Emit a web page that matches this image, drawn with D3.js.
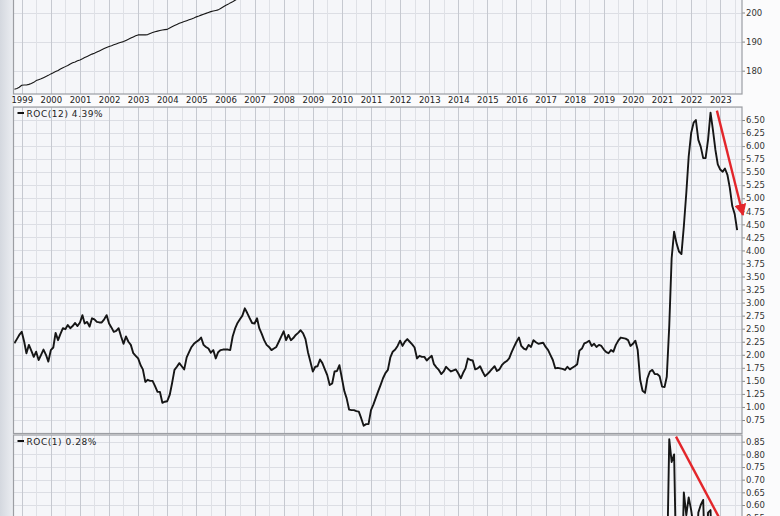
<!DOCTYPE html>
<html><head><meta charset="utf-8">
<script src="https://cdn.jsdelivr.net/npm/d3@7"></script>
<style>
html,body{margin:0;padding:0;background:#fff;}
svg text{font-family:"DejaVu Sans",Verdana,sans-serif;}
</style></head>
<body><svg id="c" width="780" height="516"></svg>
<script>
// ---------- DATA (monthly, first month = Oct 1998) ----------
const startYear = 1998, startMonth = 9; // Oct 1998 (0-based month)
// Core CPI index (top panel), Oct 1998 .. Jul 2006 (rest is above the visible area)
const cpiValues = [173.6,173.9,174.3,175.0,175.1,175.1,175.3,175.6,176.0,176.6,176.9,177.2,177.6,178.0,178.4,
178.9,179.3,179.7,180.1,180.6,181.0,181.4,181.8,182.3,182.7,183.0,183.4,183.7,184.1,184.5,184.9,185.3,185.7,
186.0,186.4,186.8,187.2,187.6,188.0,188.3,188.6,188.9,189.2,189.5,189.8,190.0,190.4,190.8,191.2,191.6,192.0,
192.3,192.3,192.3,192.3,192.4,192.8,193.1,193.4,193.6,193.8,194.0,194.1,194.2,194.7,195.1,195.5,195.9,196.3,
196.6,196.9,197.2,197.5,197.8,198.1,198.5,198.8,199.1,199.4,199.7,200.0,200.3,200.5,200.7,200.9,201.4,201.9,
202.4,202.8,203.3,203.7,204.2,204.7,205.2];
// ROC(12) in %, Oct 1998 .. Aug 2023
const roc12Values = [2.22,2.30,2.38,
2.44,2.25,2.03,2.19,2.08,1.96,2.06,1.90,2.00,2.10,2.00,1.87,
2.09,2.14,2.42,2.28,2.40,2.51,2.49,2.57,2.51,2.55,2.61,2.55,
2.62,2.76,2.60,2.63,2.54,2.70,2.68,2.63,2.62,2.62,2.68,2.76,
2.60,2.52,2.44,2.46,2.51,2.35,2.21,2.35,2.25,2.19,2.03,1.98,
1.93,1.80,1.72,1.48,1.52,1.50,1.50,1.40,1.29,1.29,1.08,1.10,
1.11,1.23,1.45,1.71,1.77,1.84,1.78,1.72,1.95,2.05,2.15,2.21,
2.25,2.28,2.33,2.19,2.15,2.12,2.04,2.09,1.93,2.05,2.09,2.10,
2.10,2.10,2.09,2.35,2.50,2.61,2.68,2.75,2.89,2.80,2.70,2.61,
2.60,2.70,2.51,2.40,2.28,2.19,2.15,2.09,2.12,2.15,2.25,2.35,
2.45,2.28,2.38,2.28,2.32,2.38,2.42,2.47,2.41,2.30,2.05,1.87,
1.68,1.77,1.78,1.91,1.84,1.72,1.61,1.42,1.45,1.68,1.69,1.80,
1.55,1.30,1.17,0.95,0.94,0.94,0.92,0.91,0.78,0.64,0.67,0.67,
0.94,1.05,1.17,1.30,1.42,1.55,1.65,1.71,1.95,2.06,2.10,2.17,
2.27,2.17,2.25,2.30,2.25,2.20,2.14,1.93,1.98,1.96,1.96,1.89,
1.94,1.98,1.82,1.76,1.71,1.63,1.68,1.77,1.72,1.68,1.70,1.72,
1.64,1.55,1.65,1.74,1.93,1.90,1.89,1.72,1.74,1.78,1.68,1.59,
1.63,1.68,1.73,1.78,1.69,1.72,1.80,1.85,1.88,1.93,2.05,2.15,
2.25,2.33,2.17,2.12,2.10,2.19,2.15,2.28,2.24,2.21,2.22,2.23,
2.15,2.09,2.00,1.90,1.74,1.75,1.74,1.73,1.71,1.77,1.72,1.75,
1.78,1.82,2.08,2.12,2.22,2.24,2.27,2.17,2.21,2.15,2.19,2.17,
2.10,2.05,2.03,2.09,2.06,2.19,2.27,2.33,2.32,2.31,2.28,2.17,
2.21,2.27,2.09,1.52,1.31,1.27,1.55,1.68,1.71,1.63,1.63,1.59,
1.39,1.38,1.58,2.55,3.85,4.36,4.14,3.98,3.93,4.46,5.10,5.80,
6.25,6.45,6.50,6.12,5.99,5.77,5.77,6.12,6.64,6.31,5.93,5.65,
5.55,5.51,5.57,5.45,5.20,4.85,4.70,4.39];
// ROC(1) in %, Jan 2021 .. Aug 2023 (only the top of it is visible)
const roc1Start = [2021, 0];
const roc1Values = [0.00,0.10,0.30,0.86,0.77,0.80,0.30,0.10,0.24,0.65,0.56,0.63,
0.58,0.51,0.32,0.57,0.60,0.62,0.31,0.57,0.58,0.27,0.20,0.40,
0.41,0.45,0.38,0.41,0.40,0.16,0.16,0.28];
const roc12Ticks = [0.75,1.00,1.25,1.50,1.75,2.00,2.25,2.50,2.75,3.00,3.25,3.50,3.75,4.00,4.25,4.50,4.75,5.00,5.25,5.50,5.75,6.00,6.25,6.50];
const cpiTicks = [180,190,200];
const roc1Ticks = [0.55,0.60,0.65,0.70,0.75,0.80,0.85];
const roc12Label = "ROC(12) 4.39%";
const roc1Label = "ROC(1) 0.28%";
// trend-arrow annotations (date, value)
const arrow12 = [[new Date(2022,10,20), 6.68],[new Date(2023,9,13), 4.68]];
const arrow1 = [[new Date(2021,5,25), 0.87],[new Date(2023,8,15), 0.39]];

// ---------- LAYOUT ----------
const W = 780, H = 516;
const L = 13.5, R = 742;
const svg = d3.select("#c");
const monthDate = (y0,m0,i) => new Date(y0, m0 + i, 1);
const cpi = cpiValues.map((v,i)=>({d:monthDate(startYear,startMonth,i), v}));
const roc12 = roc12Values.map((v,i)=>({d:monthDate(startYear,startMonth,i), v}));
const roc1 = roc1Values.map((v,i)=>({d:monthDate(roc1Start[0],roc1Start[1],i), v}));

const x = d3.scaleTime().domain([new Date(1998,8,26), new Date(2023,9,1)]).range([14, R]);

svg.append("rect").attr("width",W).attr("height",H).attr("fill","#fbfbfc");
const defs = svg.append("defs");
const lg = defs.append("linearGradient").attr("id","lg").attr("x1","0").attr("x2","1");
lg.append("stop").attr("offset","0").attr("stop-color","#d4d8df");
lg.append("stop").attr("offset","1").attr("stop-color","#eceef2");
svg.append("rect").attr("x",0).attr("y",0).attr("width",L).attr("height",H).attr("fill","url(#lg)");

const panels = [
  {id:"p0", top:-80, bottom:94, y:d3.scaleLinear().domain([180,200]).range([70.7,12.5]), ticks:cpiTicks, fmt:d3.format("d"), data:cpi, sw:1.1},
  {id:"p1", top:107, bottom:433.5, y:d3.scaleLinear().domain([0.75,6.50]).range([420,120]), ticks:roc12Ticks, fmt:d3.format(".2f"), data:roc12, sw:1.9, label:roc12Label},
  {id:"p2", top:435, bottom:640, y:d3.scaleLinear().domain([0.60,0.85]).range([505,441.7]), ticks:roc1Ticks, fmt:d3.format(".2f"), data:roc1, sw:1.9, label:roc1Label}
];

defs.append("marker").attr("id","ah").attr("viewBox","0 0 10 10").attr("refX",9).attr("refY",5)
  .attr("markerWidth",5).attr("markerHeight",5).attr("orient","auto").attr("markerUnits","strokeWidth")
  .append("path").attr("d","M0,0 L10,5 L0,10 z").attr("fill","#e3262b");

const halfYears = d3.timeMonth.every(6).range(new Date(1998,6,1), new Date(2024,0,1)).filter(d=>x(d)>L+0.5 && x(d)<R);
const gridTicks = (p)=>d3.range(-20,40).map(k=>p.ticks[0]+k*(p.ticks[1]-p.ticks[0]));

panels.forEach(p=>{
  defs.append("clipPath").attr("id","clip"+p.id).append("rect")
    .attr("x",L).attr("y",p.top).attr("width",R-L).attr("height",p.bottom-p.top);
  const g = svg.append("g");
  g.append("rect").attr("x",L).attr("y",p.top).attr("width",R-L).attr("height",p.bottom-p.top).attr("fill","#f5f6f9");
  const gg = g.append("g").attr("clip-path",`url(#clip${p.id})`);
  gg.selectAll("line.h").data(gridTicks(p)).join("line")
    .attr("x1",L).attr("x2",R).attr("y1",d=>Math.round(p.y(d))+0.5).attr("y2",d=>Math.round(p.y(d))+0.5)
    .attr("stroke","#dcdee4").attr("stroke-width",1);
  gg.selectAll("line.v").data(halfYears).join("line")
    .attr("x1",d=>Math.round(x(d))+0.5).attr("x2",d=>Math.round(x(d))+0.5).attr("y1",p.top).attr("y2",p.bottom)
    .attr("stroke",d=>d.getMonth()===0?"#c6c9d0":"#dfe1e6").attr("stroke-width",1);
  gg.append("path").datum(p.data)
    .attr("d",d3.line().x(d=>x(d.d)).y(d=>p.y(d.v)))
    .attr("fill","none").attr("stroke","#161616").attr("stroke-width",p.sw).attr("stroke-linejoin","round");
  p.gg = gg;
  const ax = svg.append("g").attr("transform",`translate(${R},0)`)
    .call(d3.axisRight(p.y).tickValues(p.ticks).tickSize(3).tickPadding(1).tickFormat(p.fmt));
  ax.select(".domain").remove();
  ax.selectAll("line").attr("stroke","#888");
  ax.selectAll("text").attr("font-size","8.5px").attr("fill","#333");
  svg.append("rect").attr("x",L).attr("y",p.top).attr("width",R-L).attr("height",p.bottom-p.top)
    .attr("fill","none").attr("stroke","#9c9ea3").attr("stroke-width",1.2);
  if(p.label){
    svg.append("line").attr("x1",17.5).attr("x2",24).attr("y1",p.top+6).attr("y2",p.top+6).attr("stroke","#111").attr("stroke-width",2);
    svg.append("text").attr("x",26.5).attr("y",p.top+9.5).attr("font-size","9px").attr("letter-spacing","0.55px")
      .attr("fill","#222").text(p.label);
  }
});

// year axis under top panel
const yax = svg.append("g").attr("transform","translate(0,94)")
  .call(d3.axisBottom(x).ticks(d3.timeYear.every(1)).tickSize(0).tickPadding(3).tickFormat(d3.timeFormat("%Y")));
yax.select(".domain").remove();
yax.selectAll("text").attr("font-size","8.5px").attr("fill","#222");

// red trend arrows
const p1 = panels[1], p2 = panels[2];
svg.append("line")
  .attr("x1",x(arrow12[0][0])).attr("y1",p1.y(arrow12[0][1]))
  .attr("x2",x(arrow12[1][0])).attr("y2",p1.y(arrow12[1][1]))
  .attr("stroke","#e3262b").attr("stroke-width",2.4).attr("marker-end","url(#ah)");
p2.gg.append("line")
  .attr("x1",x(arrow1[0][0])).attr("y1",p2.y(arrow1[0][1]))
  .attr("x2",x(arrow1[1][0])).attr("y2",p2.y(arrow1[1][1]))
  .attr("stroke","#e3262b").attr("stroke-width",2.4);
</script></body></html>
